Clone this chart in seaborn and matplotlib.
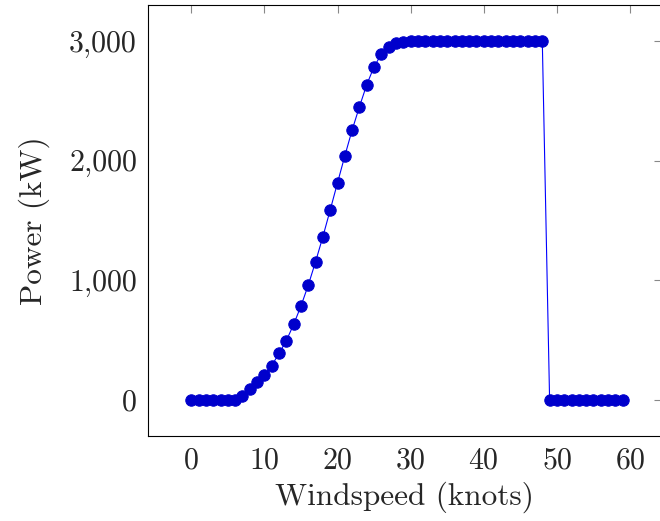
import numpy as np
import seaborn as sns
import matplotlib
matplotlib.use("Agg")
import matplotlib.pyplot as plt
import matplotlib.ticker as mticker
import pandas as pd

# Power curve data (windspeed in knots, power in kW)
windspeed = list(range(0, 60))
ramp = [0, 0, 0, 0, 0, 0, 0, 36, 89, 148, 209, 287, 390, 496, 632, 785,
        960, 1156, 1365, 1588, 1815, 2040, 2256, 2451, 2635, 2785, 2889,
        2952, 2981, 2994]
rated = [3000] * 19
cutout = [0] * 11
power = ramp + rated + cutout

xticks = [0, 10, 20, 30, 40, 50, 60]
yticks = [0, 1000, 2000, 3000]

data = pd.DataFrame({"windspeed": windspeed, "power": power})

sns.set_style("white")
plt.rcParams["font.family"] = ["cmr10", "DejaVu Serif"]
plt.rcParams["axes.formatter.use_mathtext"] = True
plt.rcParams["mathtext.fontset"] = "cm"

fig = plt.figure(figsize=(6.6, 5.21), dpi=100)
# right spine sits just past the image edge, like the reference
ax = fig.add_axes([148.1 / 660, 85 / 521, 513.4 / 660, 431 / 521])

sns.lineplot(data=data, x="windspeed", y="power", ax=ax,
             color="#0000ff", linewidth=0.8, marker="o", markersize=8.2,
             markerfacecolor="#0000cc", markeredgecolor="#0000cc")

ax.set_xlim(-5.9, 64.3)
ax.set_ylim(-300, 3300)
ax.set_xticks(xticks)
ax.set_yticks(yticks)
ax.yaxis.set_major_formatter(mticker.FuncFormatter(lambda v, p: "{:,}".format(int(v))))

ax.tick_params(direction="in", length=6, width=0.8, color="#888888",
               top=True, right=True, labelsize=21.5, pad=8)
for s in ax.spines.values():
    s.set_color("black")
    s.set_linewidth(0.8)

ax.set_xlabel("Windspeed (knots)", fontsize=22.5, labelpad=5)
ax.set_ylabel("Power (kW)", fontsize=22.5, labelpad=14)

fig.savefig("out.png", dpi=100)
